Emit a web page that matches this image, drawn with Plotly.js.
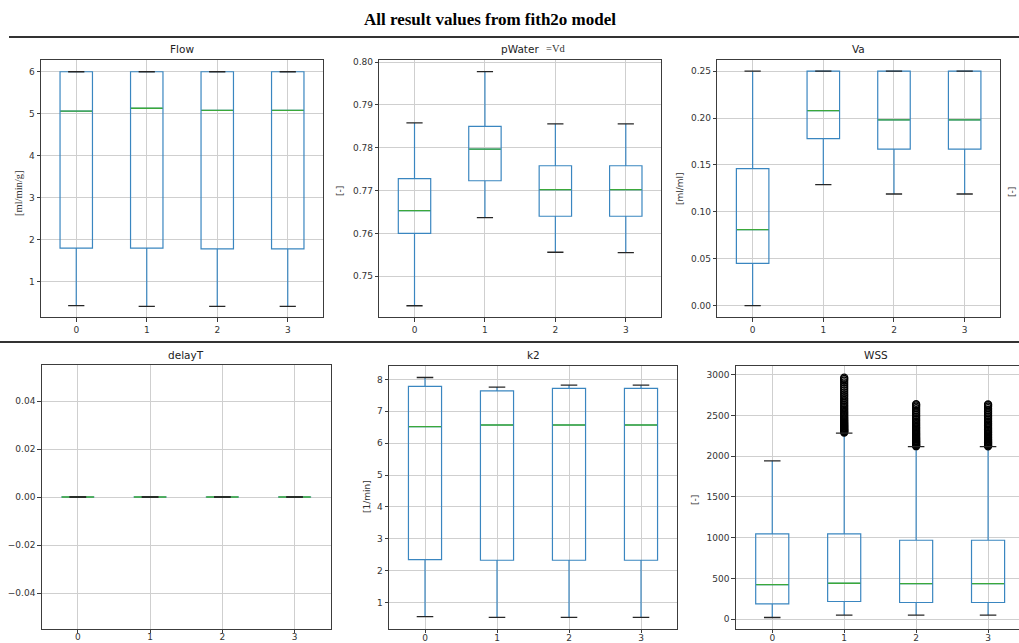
<!DOCTYPE html>
<html>
<head>
<meta charset="utf-8">
<script src="https://cdn.plot.ly/plotly-3.0.1.min.js"></script>
<style>
  html, body { margin: 0; padding: 0; background: #ffffff; }
  #chart { width: 1019px; height: 643px; }
</style>
</head>
<body>
<div id="chart"></div>
<script>
// Category positions shared by every panel
const groups = [0, 1, 2, 3];
const groupLabels = ['0', '1', '2', '3'];

// Flow [ml/min/g]
const flowLower  = [0.43, 0.41, 0.41, 0.41];
const flowQ1     = [1.80, 1.80, 1.78, 1.78];
const flowMedian = [5.06, 5.13, 5.08, 5.08];
const flowQ3     = [6.00, 6.00, 6.00, 6.00];
const flowUpper  = [6.00, 6.00, 6.00, 6.00];

// pWater [-]
const pWaterLower  = [0.7431, 0.7637, 0.7556, 0.7555];
const pWaterQ1     = [0.7600, 0.7723, 0.7640, 0.7640];
const pWaterMedian = [0.7653, 0.7797, 0.7702, 0.7702];
const pWaterQ3     = [0.7728, 0.7850, 0.7758, 0.7758];
const pWaterUpper  = [0.7858, 0.7978, 0.7856, 0.7856];

// Va [ml/ml]
const vaLower  = [0.000, 0.129, 0.119, 0.119];
const vaQ1     = [0.045, 0.178, 0.167, 0.167];
const vaMedian = [0.081, 0.208, 0.198, 0.198];
const vaQ3     = [0.146, 0.250, 0.250, 0.250];
const vaUpper  = [0.250, 0.250, 0.250, 0.250];

// delayT (constant)
const delayLower  = [0, 0, 0, 0];
const delayQ1     = [0, 0, 0, 0];
const delayMedian = [0, 0, 0, 0];
const delayQ3     = [0, 0, 0, 0];
const delayUpper  = [0, 0, 0, 0];

// k2 [1/min]
const k2Lower  = [0.56, 0.54, 0.54, 0.54];
const k2Q1     = [2.35, 2.33, 2.33, 2.33];
const k2Median = [6.52, 6.57, 6.57, 6.57];
const k2Q3     = [7.78, 7.64, 7.72, 7.72];
const k2Upper  = [8.06, 7.76, 7.82, 7.82];

// WSS [-]
const wssLower  = [20, 50, 50, 50];
const wssQ1     = [187, 216, 204, 204];
const wssMedian = [423, 440, 436, 436];
const wssQ3     = [1046, 1046, 968, 968];
const wssUpper  = [1941, 2283, 2116, 2116];
const wssOutliers1 = [2290, 2298, 2305, 2312, 2320, 2328, 2336, 2345, 2354, 2363, 2372, 2382,
  2392, 2403, 2414, 2426, 2438, 2451, 2464, 2478, 2492, 2507, 2522, 2538, 2555, 2572, 2590,
  2609, 2628, 2648, 2669, 2690, 2712, 2735, 2758, 2782, 2806, 2830, 2855, 2880, 2905, 2928,
  2947, 2963];
const wssOutliers2 = [2122, 2130, 2138, 2146, 2155, 2164, 2173, 2183, 2193, 2204, 2215, 2227,
  2239, 2252, 2265, 2279, 2293, 2308, 2323, 2339, 2355, 2372, 2389, 2407, 2425, 2444, 2463,
  2483, 2503, 2524, 2545, 2566, 2588, 2608, 2624, 2637];
const wssOutliers3 = [2121, 2129, 2137, 2146, 2155, 2164, 2174, 2184, 2194, 2205, 2216, 2228,
  2240, 2253, 2266, 2280, 2294, 2309, 2324, 2340, 2356, 2373, 2390, 2408, 2426, 2445, 2464,
  2484, 2504, 2525, 2546, 2567, 2589, 2609, 2625, 2636];

// Figure geometry (pixels)
const W = 1019, H = 643;
const fx = v => v / W;
const fy = v => 1 - v / H;

const BOX_BLUE = '#3a86c0';
const MEDIAN_GREEN = '#3aa83a';
const CAP_COLOR = '#262626';
const FRAME = '#3c3c3c';
const GRID = '#cfcfcf';
const TICK_FONT = { family: 'DejaVu Sans', size: 9, color: '#333333' };
const BOX_WIDTH = 0.46;   // box width in category units

const panels = [
  { name: 'Flow', stats: [flowLower, flowQ1, flowMedian, flowQ3, flowUpper],
    rect: [41, 60, 323, 317.3], xrange: [-0.5, 3.5], yrange: [0.15, 6.28],
    tick0: 0, dtick: 1, fmt: '', titleY: 49 },
  { name: 'pWater', stats: [pWaterLower, pWaterQ1, pWaterMedian, pWaterQ3, pWaterUpper],
    rect: [379.3, 60, 661, 317.3], xrange: [-0.5, 3.5], yrange: [0.7404, 0.8005],
    tick0: 0.75, dtick: 0.01, fmt: '.2f', titleY: 49 },
  { name: 'Va', stats: [vaLower, vaQ1, vaMedian, vaQ3, vaUpper],
    rect: [717.3, 59.5, 1000, 317.3], xrange: [-0.5, 3.5], yrange: [-0.0125, 0.2625],
    tick0: 0, dtick: 0.05, fmt: '.2f', titleY: 49 },
  { name: 'delayT', stats: [delayLower, delayQ1, delayMedian, delayQ3, delayUpper],
    rect: [41.7, 365, 330.7, 629], xrange: [-0.5, 3.5], yrange: [-0.055, 0.055],
    tick0: 0, dtick: 0.02, fmt: '.2f', titleY: 355, bottomRow: true },
  { name: 'k2', stats: [k2Lower, k2Q1, k2Median, k2Q3, k2Upper],
    rect: [389, 365.7, 677, 629.3], xrange: [-0.5, 3.5], yrange: [0.165, 8.43],
    tick0: 0, dtick: 1, fmt: '', titleY: 355, bottomRow: true },
  { name: 'WSS', stats: [wssLower, wssQ1, wssMedian, wssQ3, wssUpper],
    rect: [735.7, 365.7, 1019, 629.3], xrange: [-0.508, 3.43], yrange: [-125, 3110],
    tick0: 0, dtick: 500, fmt: '', titleY: 355, openRight: true, bottomRow: true,
    titleX: 876,
    outliers: [[1, wssOutliers1], [2, wssOutliers2], [3, wssOutliers3]] }
];

const traces = [];
const layout = {
  width: W, height: H,
  margin: { l: 0, r: 0, t: 0, b: 0 },
  paper_bgcolor: '#ffffff', plot_bgcolor: '#ffffff',
  showlegend: false,
  font: { family: 'DejaVu Sans', color: '#222222' },
  annotations: [], shapes: []
};

panels.forEach((p, i) => {
  const n = i + 1;
  const xa = 'x' + (n === 1 ? '' : n), ya = 'y' + (n === 1 ? '' : n);
  const [x0, y0, x1, y1] = p.rect;
  const pxPerUnit = (x1 - x0) / (p.xrange[1] - p.xrange[0]);
  const boxPx = BOX_WIDTH * pxPerUnit;
  const [lo, q1, med, q3, hi] = p.stats;

  traces.push({
    type: 'box', x: groups, q1: q1, median: med, q3: q3,
    lowerfence: lo, upperfence: hi,
    width: BOX_WIDTH, whiskerwidth: 0, boxpoints: false,
    line: { color: BOX_BLUE, width: 1.2 }, fillcolor: 'rgba(0,0,0,0)',
    xaxis: xa, yaxis: ya, hoverinfo: 'skip'
  });

  if (p.outliers) {
    p.outliers.forEach(([g, vals]) => {
      traces.push({
        type: 'scatter', mode: 'markers',
        x: vals.map(() => g), y: vals,
        marker: { symbol: 'circle-open', size: 7, color: '#000000', line: { width: 1.3, color: '#000000' } },
        xaxis: xa, yaxis: ya, hoverinfo: 'skip'
      });
    });
  }

  // medians (green)
  traces.push({
    type: 'scatter', mode: 'markers',
    x: groups, y: med,
    marker: { symbol: 'line-ew', size: (boxPx - 1) / 1.4, line: { color: MEDIAN_GREEN, width: 1.3 } },
    xaxis: xa, yaxis: ya, hoverinfo: 'skip'
  });

  // whisker caps (dark)
  traces.push({
    type: 'scatter', mode: 'markers',
    x: groups.concat(groups), y: lo.concat(hi),
    marker: { symbol: 'line-ew', size: (boxPx / 2) / 1.4, line: { color: CAP_COLOR, width: 1.3 } },
    xaxis: xa, yaxis: ya, hoverinfo: 'skip'
  });

  layout['xaxis' + (n === 1 ? '' : n)] = {
    domain: [fx(x0), fx(x1)], range: p.xrange, anchor: ya,
    tickmode: 'array', tickvals: groups, ticktext: groupLabels,
    showgrid: true, gridcolor: GRID, gridwidth: 1, zeroline: false,
    showline: true, mirror: true, linecolor: FRAME, linewidth: 1,
    ticks: 'outside', ticklen: p.bottomRow ? 2.5 : 3.5, tickcolor: FRAME, tickwidth: 1,
    ticklabelstandoff: p.bottomRow ? -3 : 0,
    tickfont: TICK_FONT, fixedrange: true
  };
  layout['yaxis' + (n === 1 ? '' : n)] = {
    domain: [fy(y1), fy(y0)], range: p.yrange, anchor: xa,
    tick0: p.tick0, dtick: p.dtick, tickformat: p.fmt,
    showgrid: true, gridcolor: GRID, gridwidth: 1, zeroline: false,
    showline: true, mirror: p.openRight ? false : true, linecolor: FRAME, linewidth: 1,
    ticks: 'outside', ticklen: 3.5, tickcolor: FRAME, tickwidth: 1,
    tickfont: TICK_FONT, fixedrange: true
  };

  layout.annotations.push({
    xref: 'paper', yref: 'paper', x: fx(p.titleX || (x0 + x1) / 2), y: fy(p.titleY),
    text: p.name, showarrow: false, xanchor: 'center', yanchor: 'middle',
    font: { family: 'DejaVu Sans', size: 10.5, color: '#222222' }
  });
});

// Unit labels on the y axes
const unitLabels = [
  { text: '[ml/min/g]', x: 18, y: 193, family: 'Liberation Serif', size: 10.5 },
  { text: '[-]', x: 340, y: 191, family: 'DejaVu Sans', size: 9 },
  { text: '[ml/ml]', x: 680, y: 189, family: 'DejaVu Sans', size: 9 },
  { text: '[-]', x: 1012, y: 192, family: 'DejaVu Sans', size: 9 },
  { text: '[1/min]', x: 367, y: 497, family: 'DejaVu Sans', size: 9 },
  { text: '[-]', x: 695, y: 500, family: 'DejaVu Sans', size: 9 }
];
unitLabels.forEach(u => {
  layout.annotations.push({
    xref: 'paper', yref: 'paper', x: fx(u.x), y: fy(u.y), text: u.text,
    showarrow: false, textangle: -90, xanchor: 'center', yanchor: 'middle',
    font: { family: u.family, size: u.size, color: '#333333' }
  });
});

// "=Vd" note beside the pWater title
layout.annotations.push({
  xref: 'paper', yref: 'paper', x: fx(556), y: fy(48.5), text: '=Vd',
  showarrow: false, xanchor: 'center', yanchor: 'middle',
  font: { family: 'Liberation Serif', size: 10.5, color: '#333333' }
});

// Page heading
layout.annotations.push({
  xref: 'paper', yref: 'paper', x: fx(490), y: fy(20), text: '<b>All result values from fith2o model</b>',
  showarrow: false, xanchor: 'center', yanchor: 'middle',
  font: { family: 'Liberation Serif', size: 17, color: '#000000' }
});

// Row separators
layout.shapes.push(
  { type: 'line', xref: 'paper', yref: 'paper', x0: fx(9), x1: 1, y0: fy(37), y1: fy(37),
    line: { color: '#333333', width: 2 } },
  { type: 'line', xref: 'paper', yref: 'paper', x0: 0, x1: 1, y0: fy(342), y1: fy(342),
    line: { color: '#333333', width: 2 } }
);

Plotly.newPlot('chart', traces, layout, { staticPlot: true, displayModeBar: false });
</script>
</body>
</html>
